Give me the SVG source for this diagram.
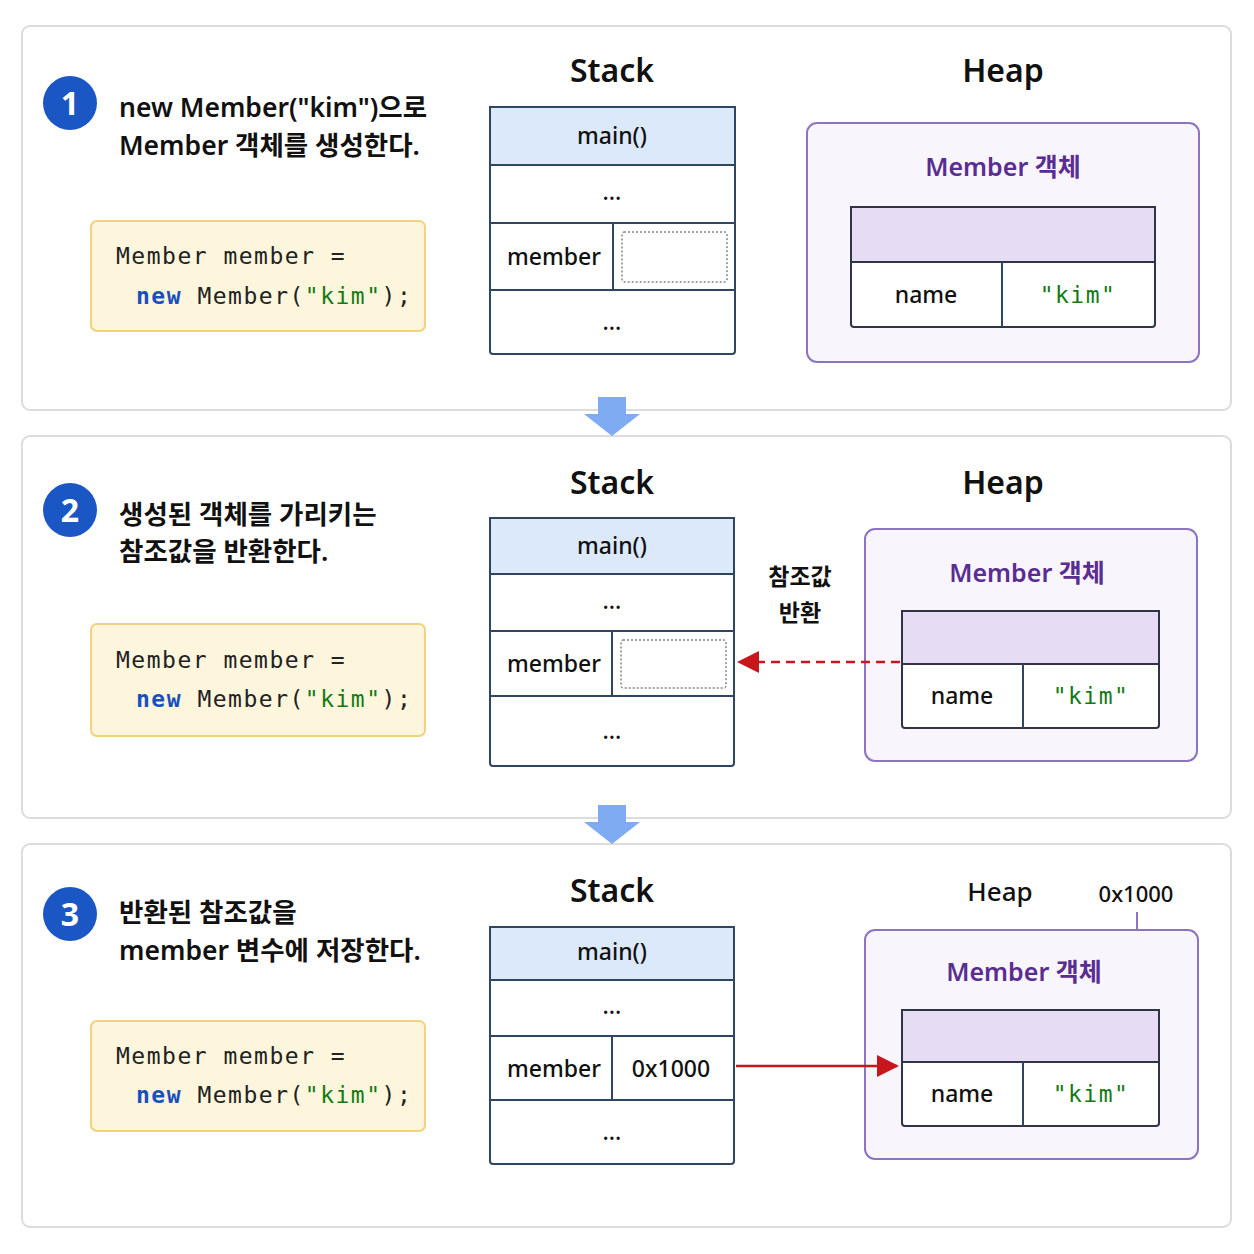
<svg xmlns="http://www.w3.org/2000/svg" width="1254" height="1254" viewBox="0 0 1254 1254">
<defs>
<style>
.panel{fill:#fff;stroke:#dcdcdc;stroke-width:2}
.t{font-family:"Noto Sans","Noto Sans CJK KR",sans-serif;fill:#111}
.desc{font-size:26.5px;font-weight:600}
.title{font-size:32px;font-weight:600;text-anchor:middle}
.code{fill:#fdf6dc;stroke:#f2d27c;stroke-width:2}
.mono{font-family:"DejaVu Sans Mono","Liberation Mono",monospace;font-size:23px;fill:#222;letter-spacing:1.5px}
.kw{fill:#1a4fc0;font-weight:bold}
.str{fill:#137a13}
.stk{fill:#fff;stroke:#2f4560;stroke-width:2}
.stkh{fill:#dce9fb;stroke:#2f4560;stroke-width:2}
.ln{stroke:#2f4560;stroke-width:2}
.cell{font-size:23px;text-anchor:middle;font-weight:500}
.heap{fill:#f8f6fc;stroke:#8c74c0;stroke-width:2}
.ht{font-size:25px;fill:#5a2d91;text-anchor:middle;font-weight:600}
.tbl{fill:#fff;stroke:#2f3547;stroke-width:2}
.tblh{fill:#e6dcf3;stroke:#2f3547;stroke-width:2}
.circ{fill:#1a56c4}
.num{font-family:"Noto Sans",sans-serif;font-size:32px;font-weight:bold;fill:#fff;text-anchor:middle}
.red{fill:#c8161d}
.dash{fill:none;stroke:#444;stroke-width:1;stroke-dasharray:2 2}
.down{fill:#7fabf2}
</style>
<marker id="ah2" markerWidth="22" markerHeight="22" refX="20" refY="11" orient="auto" markerUnits="userSpaceOnUse"><path d="M0,0 L22,11 L0,22 z" fill="#c8161d"/></marker>
</defs>
<rect width="1254" height="1254" fill="#fff"/>
<rect class="panel" x="22" y="26" width="1209" height="384" rx="8"/>
<rect class="panel" x="22" y="436" width="1209" height="382" rx="8"/>
<rect class="panel" x="22" y="844" width="1209" height="383" rx="8"/>
<g id="down1"><path class="down" d="M598,397 H626 V414 H640 L612,436 L584,414 H598 z"/></g>
<g id="down2"><path class="down" d="M598,805 H626 V822 H640 L612,844 L584,822 H598 z"/></g>

<g id="step1">
<circle class="circ" cx="70" cy="103" r="27"/><text class="num" x="70" y="115">1</text>
<text class="t desc" x="119" y="117">new Member("kim")으로</text>
<text class="t desc" x="119" y="155">Member 객체를 생성한다.</text>
</g>
<g id="code1"><rect class="code" x="91" y="221" width="334" height="110" rx="6"/>
<text class="mono" x="116" y="264">Member member =</text>
<text class="mono" x="136" y="304"><tspan class="kw">new</tspan> Member(<tspan class="str">"kim"</tspan>);</text></g>
<g id="stack1">
<text class="t title" x="612" y="82">Stack</text>
<rect class="stk" x="490" y="107" width="245" height="247" rx="3"/>
<rect class="stkh" x="490" y="107" width="245" height="58"/>
<line class="ln" x1="490" y1="223" x2="735" y2="223"/><line class="ln" x1="490" y1="290" x2="735" y2="290"/><line class="ln" x1="613" y1="223" x2="613" y2="290"/>
<text class="t cell" x="612" y="144">main()</text>
<text class="t cell" x="612" y="200">...</text>
<text class="t cell" x="554" y="265">member</text>
<rect class="dash" x="622" y="232" width="105" height="50" rx="2"/>
<text class="t cell" x="612" y="330">...</text>
</g>
<g id="heap1">
<text class="t title" x="1003" y="82">Heap</text>
<rect class="heap" x="807" y="123" width="392" height="239" rx="10"/>
<text class="t ht" x="1003" y="176">Member 객체</text>
<rect class="tbl" x="851" y="207" width="304" height="120" rx="3"/>
<rect class="tblh" x="851" y="207" width="304" height="55"/>
<line class="ln" x1="1002" y1="262" x2="1002" y2="327" stroke="#2f3547"/>
<text class="t cell" x="926" y="303" font-size="21">name</text>
<text class="mono str" x="1078" y="303" text-anchor="middle" font-size="21" letter-spacing="0">"kim"</text>
</g>

<g id="step2">
<circle class="circ" cx="70" cy="510" r="27"/><text class="num" x="70" y="522">2</text>
<text class="t desc" x="119" y="524">생성된 객체를 가리키는</text>
<text class="t desc" x="119" y="561">참조값을 반환한다.</text>
</g>
<g id="code2"><rect class="code" x="91" y="624" width="334" height="112" rx="6"/>
<text class="mono" x="116" y="668">Member member =</text>
<text class="mono" x="136" y="707"><tspan class="kw">new</tspan> Member(<tspan class="str">"kim"</tspan>);</text></g>
<g id="stack2">
<text class="t title" x="612" y="494">Stack</text>
<rect class="stk" x="490" y="518" width="244" height="248" rx="3"/>
<rect class="stkh" x="490" y="518" width="244" height="56"/>
<line class="ln" x1="490" y1="631" x2="734" y2="631"/><line class="ln" x1="490" y1="696" x2="734" y2="696"/><line class="ln" x1="612" y1="631" x2="612" y2="696"/>
<text class="t cell" x="612" y="554">main()</text>
<text class="t cell" x="612" y="609">...</text>
<text class="t cell" x="554" y="672">member</text>
<rect class="dash" x="621" y="640" width="105" height="48" rx="2"/>
<text class="t cell" x="612" y="739">...</text>
</g>
<g id="heap2">
<text class="t title" x="1003" y="494">Heap</text>
<rect class="heap" x="865" y="529" width="332" height="232" rx="10"/>
<text class="t ht" x="1027" y="582">Member 객체</text>
<rect class="tbl" x="902" y="611" width="257" height="117" rx="3"/>
<rect class="tblh" x="902" y="611" width="257" height="53"/>
<line class="ln" x1="1023" y1="664" x2="1023" y2="728" stroke="#2f3547"/>
<text class="t cell" x="962" y="704" font-size="21">name</text>
<text class="mono str" x="1091" y="704" text-anchor="middle" font-size="21" letter-spacing="0">"kim"</text>
</g>
<g id="label2">
<text class="t" x="800" y="585" font-size="23" font-weight="bold" text-anchor="middle" fill="#c8161d">참조값</text>
<text class="t" x="800" y="621" font-size="23" font-weight="bold" text-anchor="middle" fill="#c8161d">반환</text>
</g>

<g id="step3">
<circle class="circ" cx="70" cy="914" r="27"/><text class="num" x="70" y="926">3</text>
<text class="t desc" x="119" y="922">반환된 참조값을</text>
<text class="t desc" x="119" y="960">member 변수에 저장한다.</text>
</g>
<g id="code3"><rect class="code" x="91" y="1021" width="334" height="110" rx="6"/>
<text class="mono" x="116" y="1064">Member member =</text>
<text class="mono" x="136" y="1103"><tspan class="kw">new</tspan> Member(<tspan class="str">"kim"</tspan>);</text></g>
<g id="stack3">
<text class="t title" x="612" y="902">Stack</text>
<rect class="stk" x="490" y="927" width="244" height="237" rx="3"/>
<rect class="stkh" x="490" y="927" width="244" height="53"/>
<line class="ln" x1="490" y1="1036" x2="734" y2="1036"/><line class="ln" x1="490" y1="1100" x2="734" y2="1100"/><line class="ln" x1="612" y1="1036" x2="612" y2="1100"/>
<text class="t cell" x="612" y="960">main()</text>
<text class="t cell" x="612" y="1014">...</text>
<text class="t cell" x="554" y="1077">member</text>
<text class="t cell" x="671" y="1077" fill="#c8161d">0x1000</text>
<text class="t cell" x="612" y="1140">...</text>
</g>
<g id="heap3">
<text class="t" x="1000" y="901" font-size="26" font-weight="500" text-anchor="middle">Heap</text>
<text class="t" x="1136" y="902" font-size="22" font-weight="500" text-anchor="middle" fill="#c8161d">0x1000</text>
<line x1="1137" y1="912" x2="1137" y2="930" stroke="#8c74c0" stroke-width="2"/>
<rect class="heap" x="865" y="930" width="333" height="229" rx="10"/>
<text class="t ht" x="1024" y="981">Member 객체</text>
<rect class="tbl" x="902" y="1010" width="257" height="116" rx="3"/>
<rect class="tblh" x="902" y="1010" width="257" height="52"/>
<line class="ln" x1="1023" y1="1062" x2="1023" y2="1126" stroke="#2f3547"/>
<text class="t cell" x="962" y="1102" font-size="21">name</text>
<text class="mono str" x="1091" y="1102" text-anchor="middle" font-size="21" letter-spacing="0">"kim"</text>
</g>

<g id="connectors">
<line x1="900" y1="662" x2="739" y2="662" stroke="#c8161d" stroke-width="2.5" stroke-dasharray="9 6" marker-end="url(#ah2)"/>
<line x1="736" y1="1066" x2="897" y2="1066" stroke="#c8161d" stroke-width="2.5" marker-end="url(#ah2)"/>
</g>
</svg>
